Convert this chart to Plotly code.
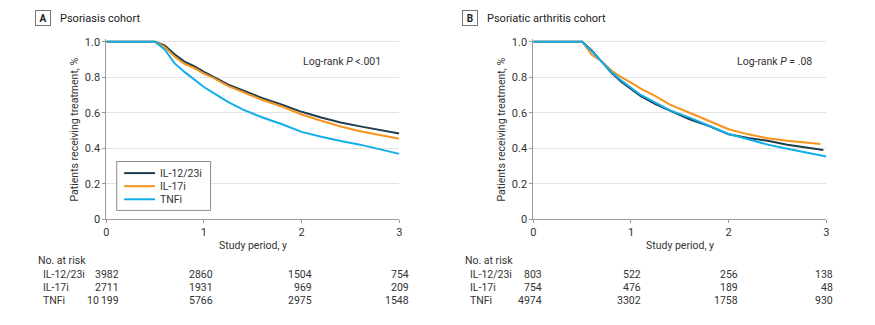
import plotly.graph_objects as go

# ---------------- data ----------------
series_names = ["IL-12/23i", "IL-17i", "TNFi"]
series_colors = ["#1f3f4f", "#f7941d", "#12aeea"]

# Panel A: Psoriasis cohort
tA = [0, 0.5, 0.6, 0.7, 0.8, 0.9, 1.0, 1.1, 1.25, 1.4, 1.6, 1.8, 2.0, 2.2, 2.4, 2.6, 2.8, 3.0]
A_il1223 = [1, 1, 0.978, 0.93, 0.888, 0.862, 0.83, 0.80, 0.758, 0.725, 0.682, 0.645, 0.605, 0.573, 0.545, 0.523, 0.503, 0.483]
A_il17 = [1, 1, 0.97, 0.915, 0.875, 0.852, 0.82, 0.795, 0.75, 0.715, 0.672, 0.635, 0.59, 0.555, 0.522, 0.495, 0.474, 0.453]
A_tnf = [1, 1, 0.955, 0.878, 0.83, 0.785, 0.745, 0.71, 0.66, 0.617, 0.573, 0.535, 0.492, 0.465, 0.44, 0.42, 0.395, 0.368]

# Panel B: Psoriatic arthritis cohort
tB_il1223 = [0, 0.5, 0.6, 0.7, 0.8, 0.9, 1.0, 1.1, 1.25, 1.4, 1.6, 1.8, 2.0, 2.2, 2.4, 2.6, 2.8, 2.97]
B_il1223 = [1, 1, 0.95, 0.89, 0.825, 0.775, 0.735, 0.694, 0.648, 0.61, 0.563, 0.525, 0.478, 0.458, 0.442, 0.42, 0.402, 0.39]
tB_il17 = [0, 0.5, 0.6, 0.7, 0.8, 0.9, 1.0, 1.1, 1.25, 1.4, 1.6, 1.8, 2.0, 2.2, 2.4, 2.6, 2.8, 2.94]
B_il17 = [1, 1, 0.925, 0.89, 0.838, 0.8, 0.77, 0.736, 0.693, 0.646, 0.6, 0.553, 0.507, 0.478, 0.456, 0.442, 0.43, 0.423]
tB_tnf = [0, 0.5, 0.6, 0.7, 0.8, 0.9, 1.0, 1.1, 1.25, 1.4, 1.6, 1.8, 2.0, 2.2, 2.4, 2.6, 2.8, 3.0]
B_tnf = [1, 1, 0.945, 0.885, 0.83, 0.782, 0.74, 0.70, 0.657, 0.613, 0.572, 0.528, 0.48, 0.45, 0.42, 0.397, 0.376, 0.353]

risk_times = [0, 1, 2, 3]
riskA = {"IL-12/23i": ["3982", "2860", "1504", "754"],
         "IL-17i": ["2711", "1931", "969", "209"],
         "TNFi": ["10\u2009199", "5766", "2975", "1548"]}
riskB = {"IL-12/23i": ["803", "522", "256", "138"],
         "IL-17i": ["754", "476", "189", "48"],
         "TNFi": ["4974", "3302", "1758", "930"]}

y_ticks = [0, 0.2, 0.4, 0.6, 0.8, 1.0]
y_ticklabels = ["0", "0.2", "0.4", "0.6", "0.8", "1.0"]
x_ticks = [0, 1, 2, 3]

W, H = 875, 325
FONT = "Roboto, 'Liberation Sans', sans-serif"
FS = 10.5
TXT = "#333333"

def px(x):
    return x / W

def py(y):
    return 1 - y / H

fig = go.Figure()

panelA = [(tA, A_il1223), (tA, A_il17), (tA, A_tnf)]
panelB = [(tB_il1223, B_il1223), (tB_il17, B_il17), (tB_tnf, B_tnf)]
for i, (t, v) in enumerate(panelA):
    fig.add_trace(go.Scatter(x=t, y=v, mode="lines", name=series_names[i],
                             line=dict(color=series_colors[i], width=2),
                             xaxis="x", yaxis="y", showlegend=False))
for i, (t, v) in enumerate(panelB):
    fig.add_trace(go.Scatter(x=t, y=v, mode="lines", name=series_names[i],
                             line=dict(color=series_colors[i], width=2),
                             xaxis="x2", yaxis="y2", showlegend=False))

ydom = [py(223), py(37.25)]
axis_common = dict(showline=True, linecolor="#9a9a9a", linewidth=1, ticks="outside",
                   ticklen=3, tickcolor="#9a9a9a", zeroline=False,
                   tickfont=dict(family=FONT, size=11, color=TXT))
xcommon = dict(axis_common, range=[0, 3], tickvals=x_ticks, showgrid=False)
ycommon = dict(axis_common, range=[0, 1.015], tickvals=y_ticks, ticktext=y_ticklabels,
               showgrid=True, gridcolor="#e3e3e3", gridwidth=1, domain=ydom)

fig.update_layout(
    width=W, height=H, margin=dict(l=0, r=0, t=0, b=0),
    paper_bgcolor="white", plot_bgcolor="white",
    font=dict(family=FONT, size=FS, color=TXT),
    xaxis=dict(xcommon, domain=[px(104), px(399)], anchor="y"),
    yaxis=dict(ycommon, anchor="x"),
    xaxis2=dict(xcommon, domain=[px(534), px(829)], anchor="y2"),
    yaxis2=dict(ycommon, anchor="x2"),
    showlegend=False,
)

ann = []
shapes = []
# legend (drawn manually to match compact box)
shapes.append(dict(type="rect", xref="paper", yref="paper", x0=px(114.5), x1=px(209),
                   y0=py(214), y1=py(163.5), line=dict(color="#8a8a8a", width=1), fillcolor="white",
                   layer="above"))
leg_y = [175.5, 189, 202.5]
for i, name in enumerate(series_names):
    shapes.append(dict(type="line", xref="paper", yref="paper", x0=px(122), x1=px(153),
                       y0=py(leg_y[i]), y1=py(leg_y[i]), line=dict(color=series_colors[i], width=2),
                       layer="above"))
    ann.append(dict(text=name, x=px(156), y=py(leg_y[i]), xref="paper", yref="paper",
                    showarrow=False, xanchor="left", yanchor="middle",
                    font=dict(family=FONT, size=FS, color=TXT)))

# panel labels
for lab, bx, title in [("A", 40, "Psoriasis cohort"), ("B", 470, "Psoriatic arthritis cohort")]:
    ann.append(dict(text="<b>" + lab + "</b>", x=px(bx), y=py(15.5), xref="paper", yref="paper",
                    showarrow=False, xanchor="center", yanchor="middle",
                    font=dict(family=FONT, size=10, color="#222"),
                    bordercolor="#777", borderwidth=1, borderpad=2, width=10, height=10))
    ann.append(dict(text=title, x=px(bx + 15), y=py(15.5), xref="paper", yref="paper",
                    showarrow=False, xanchor="left", yanchor="middle",
                    font=dict(family=FONT, size=11, color="#222")))

# y-axis titles
for xc in [72, 502]:
    ann.append(dict(text="Patients receiving treatment, %", x=px(xc), y=py(131),
                    xref="paper", yref="paper", showarrow=False, textangle=-90,
                    xanchor="center", yanchor="middle", font=dict(family=FONT, size=FS, color=TXT)))
# x-axis titles
for xc in [251.5, 681.5]:
    ann.append(dict(text="Study period, y", x=px(xc), y=py(250.5), xref="paper", yref="paper",
                    showarrow=False, xanchor="center", yanchor="middle",
                    font=dict(family=FONT, size=FS, color=TXT)))
# log-rank
ann.append(dict(text="Log-rank <i>P</i> <.001", x=px(383), y=py(60.5), xref="paper", yref="paper",
                showarrow=False, xanchor="right", yanchor="middle", font=dict(family=FONT, size=FS, color=TXT)))
ann.append(dict(text="Log-rank <i>P</i> = .08", x=px(817), y=py(60.5), xref="paper", yref="paper",
                showarrow=False, xanchor="right", yanchor="middle", font=dict(family=FONT, size=FS, color=TXT)))

# risk tables
row_y = [280, 293.5, 307]
for xref, risk, lab_x, shifts in [("x", riskA, 33, [15, 11, 12, 12]), ("x2", riskB, 463, [11, 12, 11, 9])]:
    ann.append(dict(text="No. at risk", x=px(lab_x), y=py(265.5), xref="paper", yref="paper",
                    showarrow=False, xanchor="left", yanchor="middle", font=dict(family=FONT, size=FS, color=TXT)))
    for r, name in enumerate(series_names):
        ann.append(dict(text=name, x=px(lab_x + 5), y=py(row_y[r]), xref="paper", yref="paper",
                        showarrow=False, xanchor="left", yanchor="middle",
                        font=dict(family=FONT, size=FS, color=TXT)))
        for c, t in enumerate(risk_times):
            ann.append(dict(text=risk[name][c], x=t, y=py(row_y[r]), xref=xref, yref="paper",
                            showarrow=False, xanchor="right", yanchor="middle", xshift=shifts[c],
                            font=dict(family=FONT, size=FS, color=TXT)))

fig.update_layout(annotations=ann, shapes=shapes)
fig.write_html("out.html")
